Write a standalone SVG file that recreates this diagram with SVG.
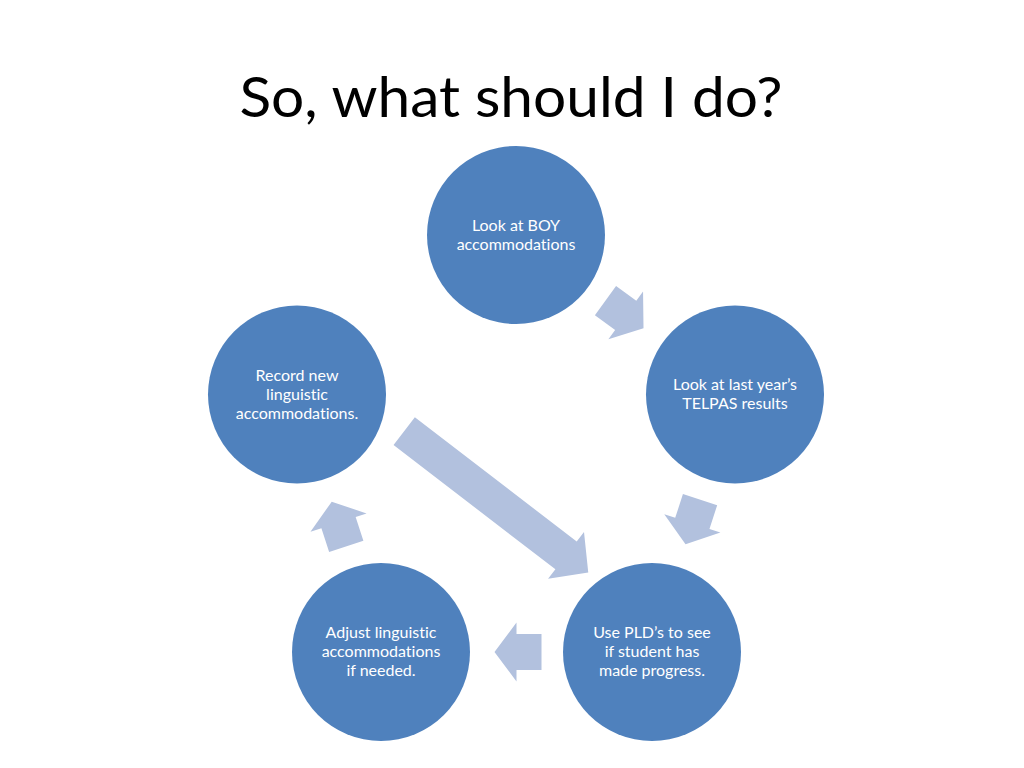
<svg xmlns="http://www.w3.org/2000/svg" width="1024" height="768" viewBox="0 0 1024 768">
  <style>
    .node { fill: #4F81BD; }
    .arrow { fill: #B2C1DE; }
    .label { font-family: Lato, "Open Sans", "Liberation Sans", sans-serif; font-size: 16px; fill: #FFFFFF; text-anchor: middle; font-variant-ligatures: none; }
    .title { font-family: Lato, "Open Sans", "Liberation Sans", sans-serif; font-size: 56px; fill: #000000; text-anchor: middle; font-variant-ligatures: none; }
  </style>
  <defs>
    <path id="smallArrow" d="M-23.5,-18 H1.5 V-29.5 L23.5,0 L1.5,29.5 V18 H-23.5 Z"/>
  </defs>
  <rect width="1024" height="768" fill="#FFFFFF"/>
  <text class="title" x="511" y="117" textLength="543" lengthAdjust="spacingAndGlyphs">So, what should I do?</text>

  <g id="connectors">
    <use href="#smallArrow" class="arrow" transform="translate(624.5,314.5) rotate(36)"/>
    <use href="#smallArrow" class="arrow" transform="translate(692.8,522) rotate(108)"/>
    <use href="#smallArrow" class="arrow" transform="translate(518,652) rotate(180)"/>
    <use href="#smallArrow" class="arrow" transform="translate(339,524) rotate(252)"/>
    <path class="arrow" d="M0,-17.5 H204 V-29.5 L232,0 L204,29.5 V17.5 H0 Z" transform="translate(404.2,431.2) rotate(37.5)"/>
  </g>

  <g id="node-boy">
    <circle class="node" cx="516" cy="235" r="89"/>
    <text class="label" x="516" y="231">Look at BOY</text>
    <text class="label" x="516" y="250">accommodations</text>
  </g>
  <g id="node-telpas">
    <circle class="node" cx="735" cy="394.5" r="89"/>
    <text class="label" x="735" y="390">Look at last year’s</text>
    <text class="label" x="735" y="409">TELPAS results</text>
  </g>
  <g id="node-pld">
    <circle class="node" cx="652" cy="652" r="89"/>
    <text class="label" x="652" y="638">Use PLD’s to see</text>
    <text class="label" x="652" y="657">if student has</text>
    <text class="label" x="652" y="676">made progress.</text>
  </g>
  <g id="node-adjust">
    <circle class="node" cx="381" cy="652" r="89"/>
    <text class="label" x="381" y="638">Adjust linguistic</text>
    <text class="label" x="381" y="657">accommodations</text>
    <text class="label" x="381" y="676">if needed.</text>
  </g>
  <g id="node-record">
    <circle class="node" cx="297" cy="394.5" r="89"/>
    <text class="label" x="297" y="381">Record new</text>
    <text class="label" x="297" y="400">linguistic</text>
    <text class="label" x="297" y="419">accommodations.</text>
  </g>
</svg>
